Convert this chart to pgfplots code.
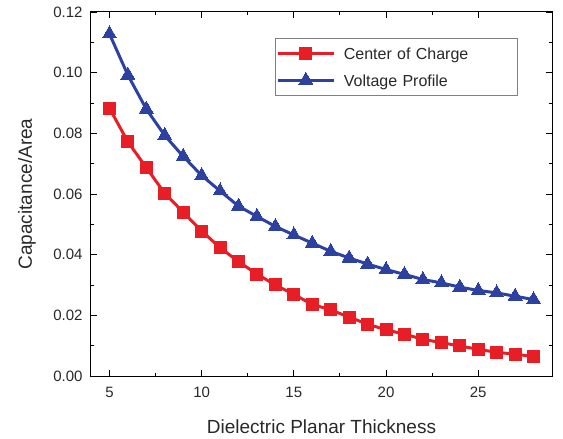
\documentclass[border=0pt]{standalone}
\usepackage{pgfplots}
\pgfplotsset{compat=1.18}
\usepackage{fontspec}
\setmainfont{Liberation Sans}
\definecolor{cred}{RGB}{232,30,38}
\definecolor{cblue}{RGB}{45,66,160}
\definecolor{axgray}{RGB}{40,40,40}
\begin{document}
\begin{tikzpicture}
\path[use as bounding box] (-91bp,-63bp) rectangle (472bp,376bp);
\begin{axis}[
  at={(0,0)}, anchor=south west,
  scale only axis,
  width=461bp, height=364bp,
  xmin=4, xmax=29, ymin=0, ymax=0.12,
  xtick={5,10,15,20,25},
  ytick={0,0.02,0.04,0.06,0.08,0.10,0.12},
  minor x tick num=1, minor y tick num=1,
  tick align=inside,
  major tick length=6bp, minor tick length=3.5bp,
  every tick/.style={black, line width=0.9bp},
  axis line style={black, line width=1bp},
  scaled y ticks=false,
  /pgf/number format/assume math mode=true,
  yticklabel style={/pgf/number format/fixed, /pgf/number format/fixed zerofill, /pgf/number format/precision=2, xshift=-5bp},
  xticklabel style={yshift=-8bp},
  ticklabel style={font=\fontsize{15bp}{18bp}\selectfont, text=axgray},
  xlabel={Dielectric Planar Thickness},
  ylabel={Capacitance/Area},
  label style={font=\fontsize{19bp}{22bp}\selectfont, text=axgray},
  xlabel style={at={(axis description cs:0.5,-0.14)}, anchor=center},
  ylabel style={at={(axis description cs:-0.139,0.5)}, anchor=center},
  legend style={at={(axis description cs:0.399,0.929)}, anchor=north west,
    draw=gray, line width=0.8bp, inner xsep=1bp, inner ysep=1.5bp,
    font=\fontsize{16bp}{19bp}\selectfont, text=axgray,
    /tikz/every odd column/.append style={column sep=4bp},
    nodes={text width=168bp, align=left, text height=15bp, text depth=3bp, inner sep=4.5bp}},
  legend image code/.code={\draw[mark repeat=2,mark phase=2,#1] plot coordinates {(0bp,0bp) (28bp,0bp) (56bp,0bp)};},
  legend cell align=left,
]
\addplot[cred, line width=3bp, mark=square*, mark size=6bp, mark options={solid, line width=0bp}] coordinates {
(5,0.0883) (6,0.0772) (7,0.0687) (8,0.0602) (9,0.0540) (10,0.0478)
(11,0.0423) (12,0.0377) (13,0.0336) (14,0.0300) (15,0.0269) (16,0.0236)
(17,0.0218) (18,0.0194) (19,0.0171) (20,0.0152) (21,0.0138) (22,0.0121)
(23,0.0110) (24,0.0099) (25,0.0088) (26,0.0078) (27,0.0072) (28,0.0064)
};
\addlegendentry{Center of Charge}
\addplot[cblue, line width=3bp, mark=triangle*, mark size=8bp, mark options={solid, line width=0bp}] coordinates {
(5,0.1128) (6,0.0992) (7,0.0880) (8,0.0793) (9,0.0724) (10,0.0661)
(11,0.0610) (12,0.0560) (13,0.0526) (14,0.0493) (15,0.0465) (16,0.0438)
(17,0.0411) (18,0.0389) (19,0.0369) (20,0.0351) (21,0.0335) (22,0.0318)
(23,0.0307) (24,0.0293) (25,0.0282) (26,0.0274) (27,0.0263) (28,0.0252)
};
\addlegendentry{Voltage Profile}
\end{axis}
\end{tikzpicture}
\end{document}
